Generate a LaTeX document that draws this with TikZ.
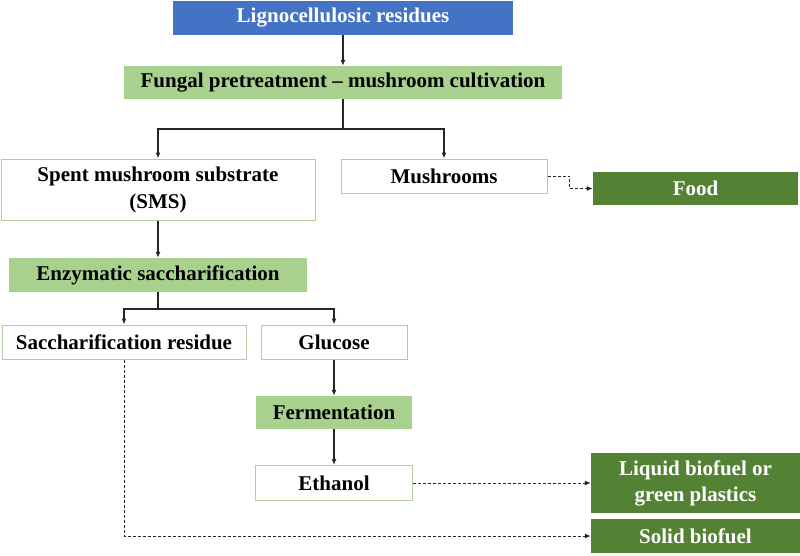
\documentclass[tikz,border=0pt]{standalone}
\usepackage{fontspec}
\setmainfont{Liberation Serif}
\usetikzlibrary{arrows.meta}

\definecolor{boxBlue}{HTML}{4472C4}
\definecolor{lightGreen}{HTML}{A9D18E}
\definecolor{darkGreen}{HTML}{548235}
\definecolor{edgeGreen}{HTML}{B4CCA6}

\tikzstyle{nS}=[inner sep = 0pt, font=\fontsize{21}{27}\selectfont\bfseries, align=center]
\tikzstyle{bS}=[nS, fill=boxBlue, text=white]
\tikzstyle{gS}=[nS, fill=lightGreen, text=black]
\tikzstyle{wS}=[nS, draw=edgeGreen, line width=1pt, fill=white, text=black]
\tikzstyle{dS}=[nS, fill=darkGreen, text=white]
\tikzstyle{lS}=[line width=1.2pt, draw=black!85]
\tikzstyle{aS}=[lS, -{Latex[length=6pt,width=5pt]}]
\tikzstyle{aD}=[line width=1pt, draw=black!85, dash pattern=on 3pt off 2pt, -{Latex[length=6pt,width=5pt]}]

\begin{document}
\begin{tikzpicture}[x=1pt, y=-1pt]
    \useasboundingbox (0,0) rectangle (800,555);
    \draw (343,18) node[bS, minimum width=340pt, minimum height=34pt] (ligno) {Lignocellulosic residues};
    \draw (343,82.5) node[gS, minimum width=438pt, minimum height=33pt] (fungal) {Fungal pretreatment -- mushroom cultivation};
    \draw (158,189.5) node[wS, minimum width=314pt, minimum height=61pt] (sms) {Spent mushroom substrate\\(SMS)};
    \draw (444,176) node[wS, minimum width=206pt, minimum height=34pt] (mush) {Mushrooms};
    \draw (695.5,188.5) node[dS, minimum width=205pt, minimum height=33pt] (food) {Food};
    \draw (158,275) node[gS, minimum width=298pt, minimum height=34pt] (enz) {Enzymatic saccharification};
    \draw (124,342) node[wS, minimum width=244pt, minimum height=34pt] (resid) {Saccharification residue};
    \draw (334,342) node[wS, minimum width=146pt, minimum height=34pt] (gluc) {Glucose};
    \draw (334,412.5) node[gS, minimum width=156pt, minimum height=33pt] (ferm) {Fermentation};
    \draw (334,483) node[wS, minimum width=157pt, minimum height=35pt] (eth) {Ethanol};
    \draw (695.5,483) node[dS, font=\fontsize{21}{26}\selectfont\bfseries, minimum width=209pt, minimum height=60pt] (liquid) {Liquid biofuel or\\green plastics};
    \draw (695.5,536) node[dS, minimum width=209pt, minimum height=34pt] (solid) {Solid biofuel};

    \coordinate (split1) at (343,129);
    \coordinate (split2) at (158,309);

    \draw[aS] (ligno) -- (fungal);
    \draw[lS] (fungal) -- (split1);
    \draw[aS] (split1) -| (sms);
    \draw[aS] (split1) -| (mush);
    \draw[aS] (sms) -- (enz);
    \draw[lS] (enz) -- (split2);
    \draw[aS] (split2) -| (resid);
    \draw[aS] (split2) -| (gluc);
    \draw[aS] (gluc) -- (ferm);
    \draw[aS] (ferm) -- (eth);

    \draw[aD] (mush.east) -- ++(22,0) |- (food);
    \draw[aD] (eth) -- (liquid);
    \draw[aD] (resid) |- (solid);
\end{tikzpicture}
\end{document}
